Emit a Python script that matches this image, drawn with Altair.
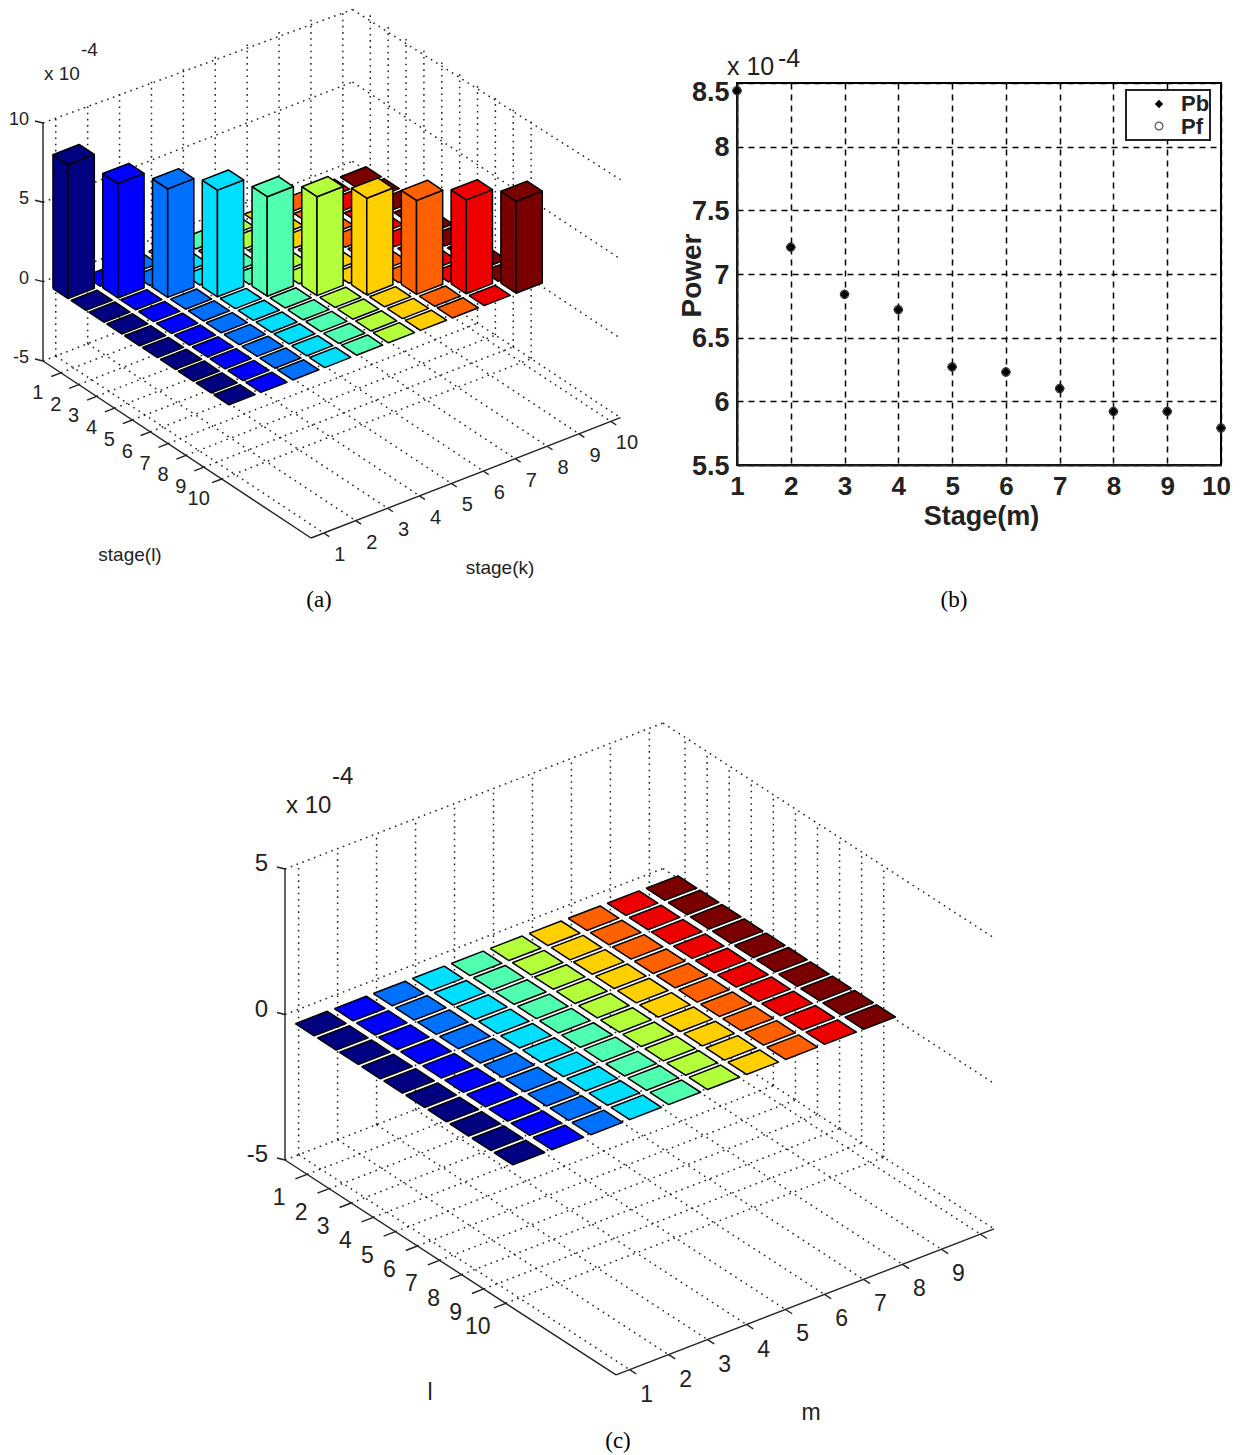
import altair as alt
import pandas as pd

stages = list(range(1, 11))
bar_heights_a = [8.44, 7.21, 6.84, 6.72, 6.27, 6.23, 6.10, 5.92, 5.92, 5.79]
floor_value = 0.0
pb_values = [8.44, 7.21, 6.84, 6.72, 6.27, 6.23, 6.10, 5.92, 5.92, 5.79]
pf_values = [8.44, 7.21, 6.84, 6.72, 6.27, 6.23, 6.10, 5.92, 5.92, 5.79]
legend_labels = ["Pb", "Pf"]
jet = ["#000080", "#0000ff", "#0070ff", "#00dfff", "#50ffaf",
       "#b4ff3c", "#ffcf00", "#ff6000", "#ee0000", "#7a0000"]

GEOM_A = dict(L=(42, 361), ul=(17.87, 11.8), uk=(31.9, -12.4), k0=0.6, kspan=9.7, uz=15.87, zmin=-5, zticks=[-5, 0, 5, 10])
GEOM_C = dict(L=(284, 1160), ul=(22.07, 14.33), uk=(38.97, -15.05), k0=0.65, kspan=9.7, uz=29.1, zmin=-5, zticks=[-5, 0, 5])
LMAX = 15
HALF_L, HALF_K = 0.425, 0.41
OX, OY = 8, 8
LEFT_W, LEFT_H = 728, 1439
GRID_TOP = 9.5


def proj(g, l, k, z):
    dk = k - g["k0"]
    dz = z - g["zmin"]
    return (g["L"][0] + l * g["ul"][0] + dk * g["uk"][0],
            g["L"][1] + l * g["ul"][1] + dk * g["uk"][1] - dz * g["uz"])


def polygons(g, heights, start_id):
    """Painter-ordered faces of a 10x10 bar3 grid."""
    rows, pid = [], start_id

    def add(corners, color):
        nonlocal pid
        for i, (l, k, z) in enumerate(corners + corners[:1]):
            x, y = proj(g, l, k, z)
            rows.append(dict(x=x, y=y, poly=pid, ord=i, color=color))
        pid += 1

    cells = sorted(((l, k) for l in stages for k in stages), key=lambda c: (c[0] - c[1], c[1]))
    a, d = HALF_L, HALF_K
    for l, k in cells:
        h = heights[l - 1] if (l == k and heights is not None) else floor_value
        c = jet[k - 1]
        if h > 0:
            add([(l - a, k - d, 0), (l + a, k - d, 0), (l + a, k - d, h), (l - a, k - d, h)], c)
            add([(l + a, k - d, 0), (l + a, k + d, 0), (l + a, k + d, h), (l + a, k - d, h)], c)
        add([(l - a, k - d, h), (l + a, k - d, h), (l + a, k + d, h), (l - a, k + d, h)], c)
    return rows, pid


def grid_rules(g):
    k0, k1 = g["k0"], g["k0"] + g["kspan"]
    zmin, zmax = g["zticks"][0], g["zticks"][-1]
    segs = []
    for l in stages:
        segs.append(((l, k0, zmin), (l, k1, zmin)))
        segs.append(((l, k1, zmin), (l, k1, zmax)))
    for k in stages:
        segs.append(((0, k, zmin), (LMAX, k, zmin)))
        segs.append(((0, k, zmin), (0, k, zmax)))
    for z in g["zticks"]:
        segs.append(((0, k0, z), (0, k1, z)))
        segs.append(((0, k1, z), (LMAX, k1, z)))
    rows = []
    for a, b in segs:
        (x, y), (x2, y2) = proj(g, *a), proj(g, *b)
        rows.append(dict(x=x, y=max(y, GRID_TOP), x2=x2, y2=max(y2, GRID_TOP)))
    return rows


def axis_rules(g):
    k0, k1 = g["k0"], g["k0"] + g["kspan"]
    zmin, zmax = g["zticks"][0], g["zticks"][-1]
    segs = [((0, k0, zmin), (0, k0, zmax)),
            ((0, k0, zmin), (LMAX, k0, zmin)),
            ((LMAX, k0, zmin), (LMAX, k1, zmin))]
    for l in stages:
        segs.append(((l, k0, zmin), (l, k0 - 0.3, zmin)))
    for k in stages:
        segs.append(((LMAX, k, zmin), (LMAX + 0.3, k, zmin)))
    rows = []
    for a, b in segs:
        (x, y), (x2, y2) = proj(g, *a), proj(g, *b)
        rows.append(dict(x=x, y=y, x2=x2, y2=y2))
    for z in g["zticks"]:
        x, y = proj(g, 0, k0, z)
        rows.append(dict(x=x, y=y, x2=x - 8, y2=y - 2))
    return rows


def tick_labels(g, off_l, off_k, off_z, k_list):
    k0 = g["k0"]
    rows = []
    for l in stages:
        x, y = proj(g, l, k0, g["zmin"])
        rows.append(dict(x=x + off_l[0], y=y + off_l[1], text=str(l)))
    for k in k_list:
        x, y = proj(g, LMAX, k, g["zmin"])
        rows.append(dict(x=x + off_k[0], y=y + off_k[1], text=str(k)))
    ztext = []
    for z in g["zticks"]:
        x, y = proj(g, 0, k0, z)
        ztext.append(dict(x=x + off_z[0], y=y + off_z[1], text=str(z)))
    return rows, ztext


X = alt.X("x:Q", scale=alt.Scale(domain=[OX, OX + LEFT_W], nice=False, zero=False), axis=None)
Y = alt.Y("y:Q", scale=alt.Scale(domain=[OY + LEFT_H, OY], nice=False, zero=False), axis=None)


def text_layer(rows, size, font="Liberation Sans", align="center", weight="normal", color="#222222"):
    return alt.Chart(pd.DataFrame(rows)).mark_text(
        fontSize=size, font=font, align=align, baseline="middle", fontWeight=weight, color=color
    ).encode(x=X, y=Y, text="text:N")


def rule_layer(rows, dash=None, width=1.3, color="#222222"):
    kw = dict(strokeWidth=width, color=color)
    if dash:
        kw["strokeDash"] = dash
    return alt.Chart(pd.DataFrame(rows)).mark_rule(**kw).encode(x=X, y=Y, x2="x2:Q", y2="y2:Q")


polys_a, next_id = polygons(GEOM_A, bar_heights_a, 0)
polys_c, _ = polygons(GEOM_C, None, next_id)
poly_layer = alt.Chart(pd.DataFrame(polys_a + polys_c)).mark_line(
    stroke="black", strokeWidth=1.5, strokeJoin="round"
).encode(x=X, y=Y, detail="poly:N", order="ord:Q", fill=alt.Fill("color:N", scale=None, legend=None))

ticks_a, z_a = tick_labels(GEOM_A, (-23, 20), (16, 22), (-14, -3), stages)
ticks_c, z_c = tick_labels(GEOM_C, (-28, 24), (17, 25), (-17, -5), stages[:-1])

left = alt.layer(
    rule_layer(grid_rules(GEOM_A) + grid_rules(GEOM_C), dash=[1.6, 4.6], width=1.5),
    poly_layer,
    rule_layer(axis_rules(GEOM_A) + axis_rules(GEOM_C), width=1.4),
    text_layer(ticks_a, 20),
    text_layer(z_a, 18, align="right"),
    text_layer([dict(x=43, y=74, text="x 10"), dict(x=80, y=50, text="-4")], 19, align="left"),
    text_layer([dict(x=129, y=555, text="stage(l)"), dict(x=499, y=568, text="stage(k)")], 19),
    text_layer(ticks_c, 23),
    text_layer(z_c, 24, align="right"),
    text_layer([dict(x=285, y=806, text="x 10"), dict(x=331, y=777, text="-4")], 24, align="left"),
    text_layer([dict(x=429, y=1393, text="l"), dict(x=810, y=1413, text="m")], 23),
    text_layer([dict(x=318, y=600, text="(a)"), dict(x=953, y=600, text="(b)"), dict(x=617, y=1441, text="(c)")],
               23, font="Liberation Serif", color="black"),
).properties(width=LEFT_W, height=LEFT_H)

pb_df = pd.DataFrame(dict(stage=stages, power=pb_values))
pf_df = pd.DataFrame(dict(stage=stages, power=pf_values))
BX = alt.X("stage:Q", scale=alt.Scale(domain=[1, 10], nice=False, zero=False),
           axis=alt.Axis(values=stages, format="d", title="Stage(m)", titleFont="Liberation Sans", titleFontSize=27,
                         titleFontWeight="bold", titleX=244, titleY=38, titleColor="#222", labelFlush=False,
                         labelFont="Liberation Sans", labelFontSize=26, labelFontWeight="bold", labelColor="#222",
                         labelPadding=8, tickSize=0, grid=True, gridColor="black", gridDash=[6, 5], gridWidth=1.5,
                         domainColor="#222", domainWidth=2,
                         labelOffset={"condition": {"test": "datum.value == 10", "value": -5}, "value": 0}))
BY = alt.Y("power:Q", scale=alt.Scale(domain=[5.5, 8.5], nice=False, zero=False),
           axis=alt.Axis(values=[5.5, 6, 6.5, 7, 7.5, 8, 8.5], labelExpr="'' + datum.value", title="Power",
                         titleFont="Liberation Sans", titleFontSize=28, titleFontWeight="bold", titleX=-31, titleY=192,
                         titleColor="#222", labelFont="Liberation Sans", labelFontSize=27, labelFontWeight="bold",
                         labelColor="#222", labelPadding=8, tickSize=0, grid=True, gridColor="black", labelFlush=False,
                         gridDash=[6, 5], gridWidth=1.5, domainColor="#222", domainWidth=2,
                         labelOffset={"condition": {"test": "datum.value == 8.5", "value": 9}, "value": 1}))

pb_layer = alt.Chart(pb_df).mark_point(filled=True, shape="diamond", color="#000000", opacity=1, size=100).encode(x=BX, y=BY)
pf_layer = alt.Chart(pf_df).mark_point(filled=False, shape="circle", color="#333333", opacity=1, strokeWidth=1.1, size=70).encode(x=BX, y=BY)

PX = alt.X("x:Q", scale=None)
PY = alt.Y("y:Q", scale=None)
annot = alt.Chart(pd.DataFrame([dict(x=-10, y=-16, text="x 10"), dict(x=41, y=-24, text="-4")])).mark_text(
    fontSize=25, font="Liberation Sans", align="left", baseline="middle", color="#222"
).encode(x=PX, y=PY, text="text:N")
legend_box = alt.Chart(pd.DataFrame([dict(x=389, x2=473, y=7, y2=57)])).mark_rect(
    fill="white", stroke="#222", strokeWidth=2
).encode(x=PX, y=PY, x2="x2:Q", y2="y2:Q")
legend_text = alt.Chart(pd.DataFrame([dict(x=444, y=21, text=legend_labels[0]), dict(x=444, y=44, text=legend_labels[1])])).mark_text(
    fontSize=22, font="Liberation Sans", fontWeight="bold", align="left", baseline="middle", color="#222"
).encode(x=PX, y=PY, text="text:N")
legend_pb = alt.Chart(pd.DataFrame([dict(x=422, y=21)])).mark_point(filled=True, shape="diamond", color="#000000", opacity=1, size=70).encode(x=PX, y=PY)
legend_pf = alt.Chart(pd.DataFrame([dict(x=422, y=43)])).mark_point(filled=False, shape="circle", color="#555555", opacity=1, strokeWidth=1.2, size=60).encode(x=PX, y=PY)

b_chart = alt.layer(pb_layer, pf_layer, annot, legend_box, legend_text, legend_pb, legend_pf).properties(
    width=484, height=382, view=alt.ViewConfig(stroke="black", strokeWidth=2))

spacer = alt.Chart(pd.DataFrame({"a": [0]})).mark_point(opacity=0).encode(
    x=alt.value(20), y=alt.value(20)).properties(width=1, height=75)

right = alt.vconcat(spacer, b_chart).properties(spacing=0, bounds="flush")

chart = alt.hconcat(left, right).properties(spacing=0, bounds="flush", padding=0, background="white"
).configure_view(stroke=None)

chart.save("out.html", embed_options={"renderer": "svg", "actions": False})
